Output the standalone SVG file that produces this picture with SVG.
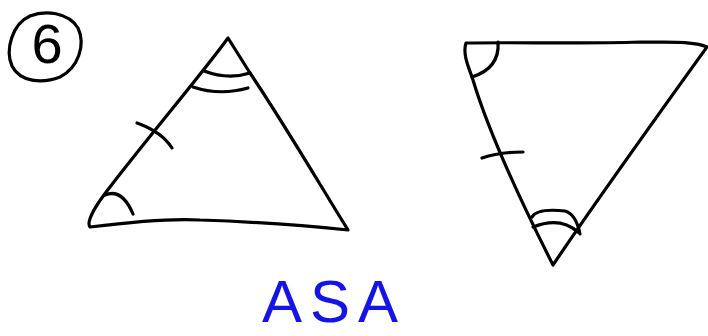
<svg xmlns="http://www.w3.org/2000/svg" width="708" height="336" viewBox="0 0 708 336">
<style>
.ln{fill:none;stroke:#000;stroke-width:3.2;stroke-linecap:round;stroke-linejoin:round}
.num{font-family:"Liberation Sans",Arial,sans-serif;font-size:56px;fill:#000}
.asa{font-family:"Liberation Sans",Arial,sans-serif;font-size:60px;fill:#1414e6}
</style>
<rect width="708" height="336" fill="#fff"/>
<g id="label6">
<path class="ln" d="M30,16 C45,10 68,12 78,28 C86,45 78,68 60,77 C42,84 20,82 12,66 C5,50 12,24 30,16 Z"/>
<text class="num" x="47" y="63" text-anchor="middle">6</text>
</g>
<g id="triangle1">
<path class="ln" d="M228,38 C205,70 150,135 110,187 C95,206 86,222 90,227 C130,222 170,218 200,220 C260,222 310,226 348,230 C320,185 285,125 250,73 Z"/>
<path class="ln" d="M204,71 Q228,80 250,73"/>
<path class="ln" d="M193,87 Q220,96 248,88"/>
<path class="ln" d="M105,195 Q122,188 133,214"/>
<path class="ln" d="M137,123 Q162,132 172,148"/>
</g>
<g id="triangle2">
<path class="ln" d="M466,43 C462,55 470,70 473,80 C485,120 510,180 553,265 C580,225 640,140 707,47 C690,40 660,43 640,42 C580,44 520,42 466,43 Z"/>
<path class="ln" d="M498,42 Q500,68 472,77"/>
<path class="ln" d="M482,158 Q500,152 523,152"/>
<path class="ln" d="M532,217 Q537,208 565,211 Q576,214 580,234"/>
<path class="ln" d="M533,227 Q560,216 578,232"/>
</g>
<g id="asa">
<text class="asa" x="330" y="322" text-anchor="middle" textLength="136" lengthAdjust="spacing">ASA</text>
</g>
</svg>
